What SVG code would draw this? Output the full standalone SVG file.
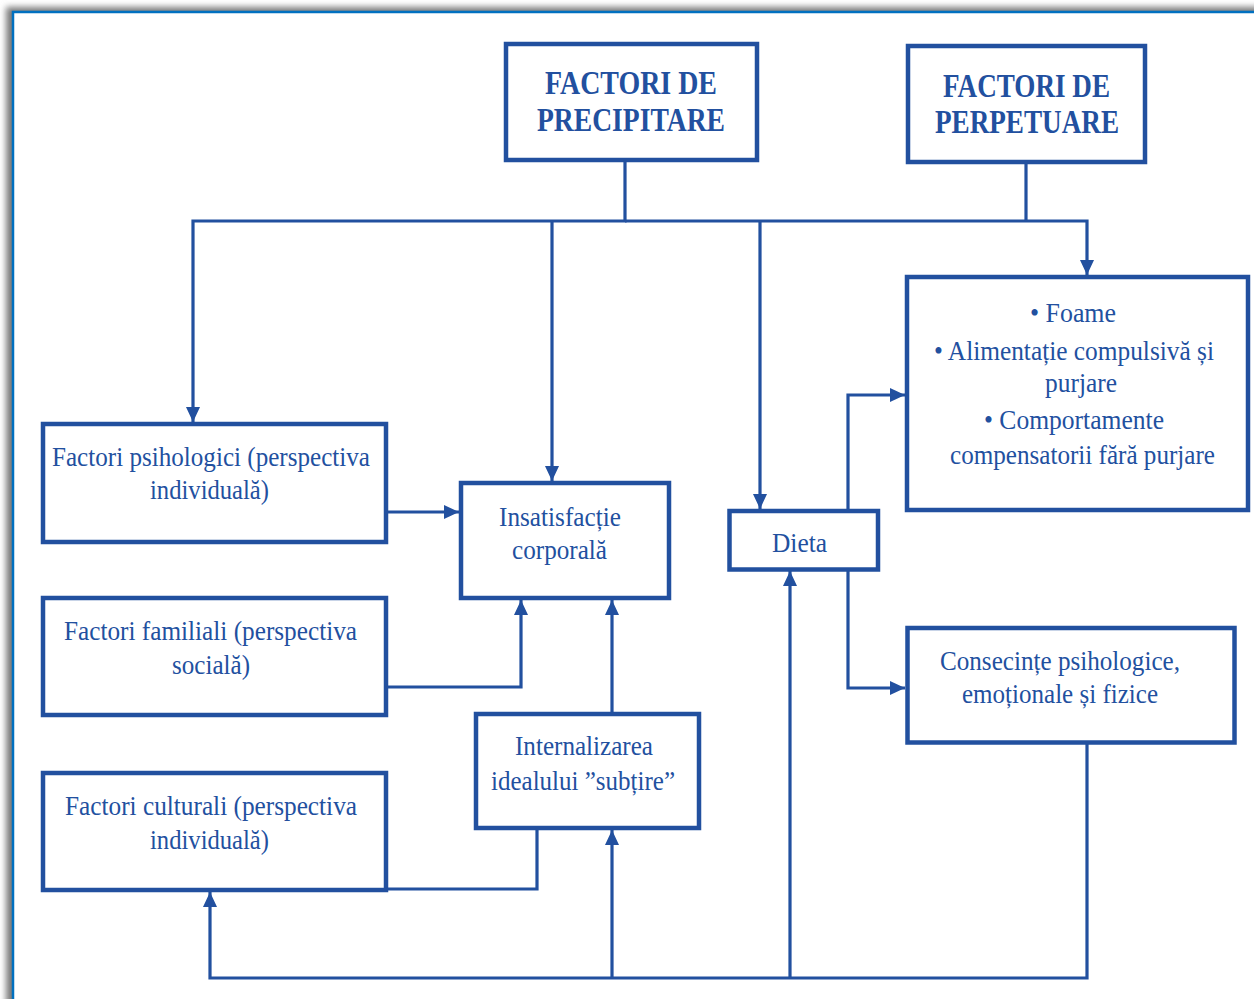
<svg xmlns="http://www.w3.org/2000/svg" width="1254" height="999" viewBox="0 0 1254 999">
  <style>
    .box { fill: #ffffff; stroke: #22509F; stroke-width: 4.5; }
    .ln { fill: none; stroke: #22509F; stroke-width: 3.2; stroke-linejoin: miter; }
    .t { font-family: "Liberation Serif", "Times New Roman", serif; font-size: 28px; fill: #22509F; }
    .b { font-weight: bold; font-size: 34px; }
  </style>
  <defs>
    <filter id="sh" x="-5%" y="-5%" width="110%" height="110%">
      <feGaussianBlur stdDeviation="3"/>
    </filter>
    <marker id="ah" markerUnits="userSpaceOnUse" viewBox="0 0 15 14" markerWidth="15" markerHeight="14" refX="15" refY="7" orient="auto">
      <path d="M0,0 L15,7 L0,14 z" fill="#22509F"/>
    </marker>
  </defs>

  <!-- page frame with soft shadow -->
  <rect x="0" y="0" width="1254" height="999" fill="#ffffff"/>
  <rect x="6" y="7" width="1320" height="1100" fill="#7a7a7a" filter="url(#sh)"/>
  <rect x="13" y="12" width="1320" height="1100" fill="#ffffff" stroke="#0070C0" stroke-width="2.5"/>

  <!-- connectors -->
  <g id="connectors">
    <path class="ln" d="M625,162 V221 H193 V422" marker-end="url(#ah)"/>
    <path class="ln" d="M625,221 H1087 V275" marker-end="url(#ah)"/>
    <path class="ln" d="M1026,164 V221"/>
    <path class="ln" d="M552,221 V481" marker-end="url(#ah)"/>
    <path class="ln" d="M760,221 V509" marker-end="url(#ah)"/>
    <path class="ln" d="M387,512 H459" marker-end="url(#ah)"/>
    <path class="ln" d="M387,687 H521 V600" marker-end="url(#ah)"/>
    <path class="ln" d="M612,712 V600" marker-end="url(#ah)"/>
    <path class="ln" d="M387,889 H537 V830"/>
    <path class="ln" d="M1087,744 V978 H210 V892" marker-end="url(#ah)"/>
    <path class="ln" d="M612,978 V830" marker-end="url(#ah)"/>
    <path class="ln" d="M790,978 V571" marker-end="url(#ah)"/>
    <path class="ln" d="M848,509 V395 H905" marker-end="url(#ah)"/>
    <path class="ln" d="M848,571 V688 H905" marker-end="url(#ah)"/>
  </g>

  <g id="precipitare">
    <rect class="box" x="506" y="44" width="251" height="116"/>
    <text class="t b" x="545" y="94" textLength="172" lengthAdjust="spacingAndGlyphs">FACTORI DE</text>
    <text class="t b" x="537" y="131" textLength="188" lengthAdjust="spacingAndGlyphs">PRECIPITARE</text>
  </g>

  <g id="perpetuare">
    <rect class="box" x="908" y="46" width="237" height="116"/>
    <text class="t b" x="943" y="97" textLength="167" lengthAdjust="spacingAndGlyphs">FACTORI DE</text>
    <text class="t b" x="935" y="133" textLength="184" lengthAdjust="spacingAndGlyphs">PERPETUARE</text>
  </g>

  <g id="comportamente">
    <rect class="box" x="907" y="277" width="341" height="233"/>
    <text class="t" x="1030" y="322" textLength="86" lengthAdjust="spacingAndGlyphs">• Foame</text>
    <text class="t" x="934" y="360" textLength="280" lengthAdjust="spacingAndGlyphs">• Alimentație compulsivă și</text>
    <text class="t" x="1045" y="392" textLength="72" lengthAdjust="spacingAndGlyphs">purjare</text>
    <text class="t" x="984" y="429" textLength="180" lengthAdjust="spacingAndGlyphs">• Comportamente</text>
    <text class="t" x="950" y="464" textLength="265" lengthAdjust="spacingAndGlyphs">compensatorii fără purjare</text>
  </g>

  <g id="psihologici">
    <rect class="box" x="43" y="424" width="343" height="118"/>
    <text class="t" x="52" y="466" textLength="318" lengthAdjust="spacingAndGlyphs">Factori psihologici (perspectiva</text>
    <text class="t" x="150" y="499" textLength="119" lengthAdjust="spacingAndGlyphs">individuală)</text>
  </g>

  <g id="insatisfactie">
    <rect class="box" x="461" y="483" width="208" height="115"/>
    <text class="t" x="499" y="526" textLength="122" lengthAdjust="spacingAndGlyphs">Insatisfacție</text>
    <text class="t" x="512" y="559" textLength="95" lengthAdjust="spacingAndGlyphs">corporală</text>
  </g>

  <g id="familiali">
    <rect class="box" x="43" y="598" width="343" height="117"/>
    <text class="t" x="64" y="640" textLength="293" lengthAdjust="spacingAndGlyphs">Factori familiali (perspectiva</text>
    <text class="t" x="172" y="674" textLength="78" lengthAdjust="spacingAndGlyphs">socială)</text>
  </g>

  <g id="culturali">
    <rect class="box" x="43" y="773" width="343" height="117"/>
    <text class="t" x="65" y="815" textLength="292" lengthAdjust="spacingAndGlyphs">Factori culturali (perspectiva</text>
    <text class="t" x="150" y="849" textLength="119" lengthAdjust="spacingAndGlyphs">individuală)</text>
  </g>

  <g id="internalizarea">
    <rect class="box" x="476" y="714" width="223" height="114"/>
    <text class="t" x="515" y="755" textLength="138" lengthAdjust="spacingAndGlyphs">Internalizarea</text>
    <text class="t" x="491" y="790" textLength="184" lengthAdjust="spacingAndGlyphs">idealului ”subțire”</text>
  </g>

  <g id="dieta">
    <rect class="box" x="729.5" y="511" width="148.5" height="58.5"/>
    <text class="t" x="772" y="552" textLength="55" lengthAdjust="spacingAndGlyphs">Dieta</text>
  </g>

  <g id="consecinte">
    <rect class="box" x="907.5" y="628" width="327" height="114.5"/>
    <text class="t" x="940" y="670" textLength="240" lengthAdjust="spacingAndGlyphs">Consecințe psihologice,</text>
    <text class="t" x="962" y="703" textLength="196" lengthAdjust="spacingAndGlyphs">emoționale și fizice</text>
  </g>
</svg>
